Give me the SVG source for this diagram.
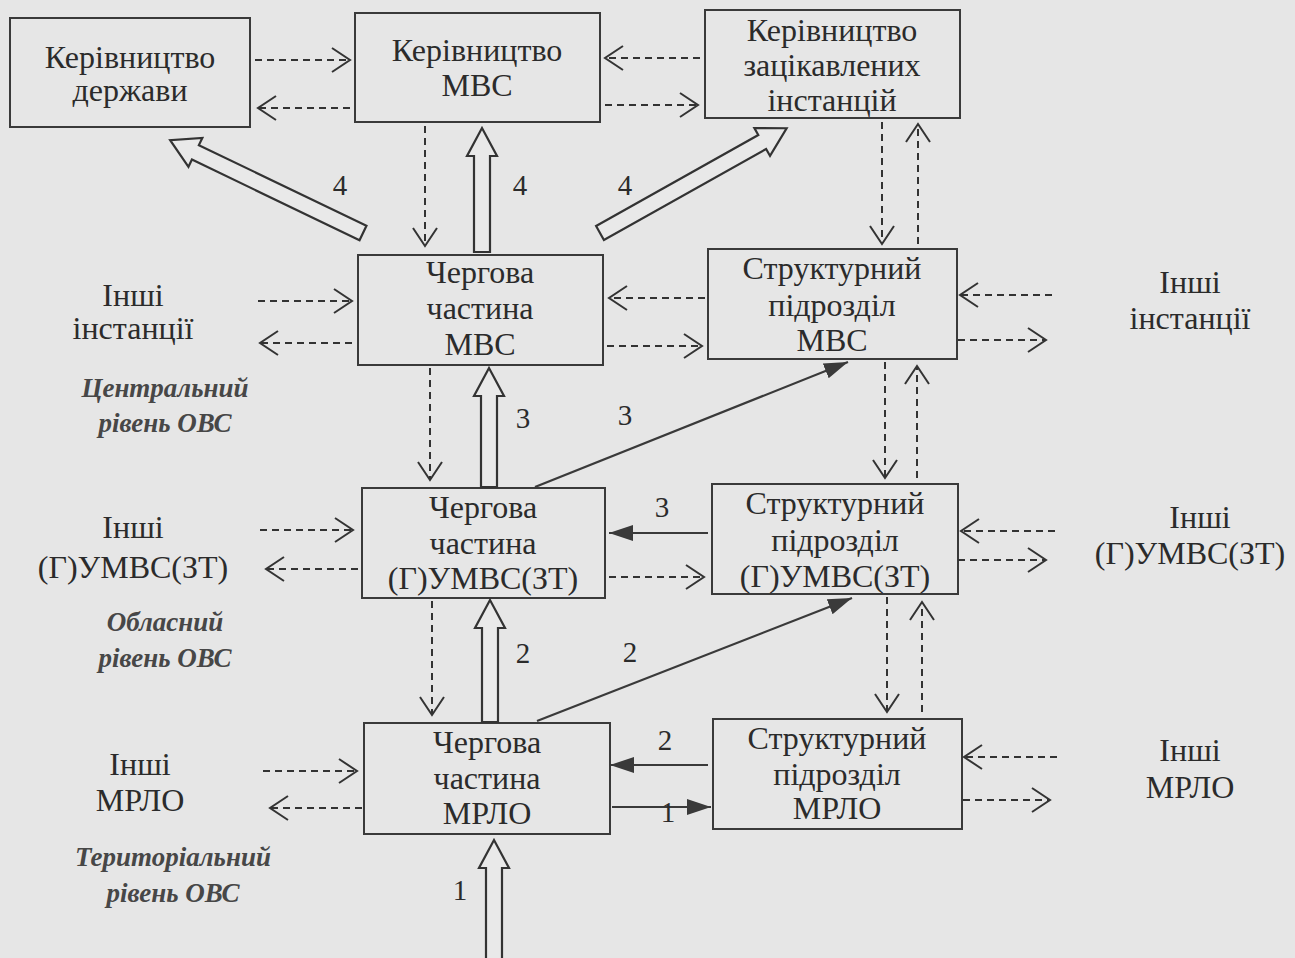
<svg xmlns="http://www.w3.org/2000/svg" width="1295" height="958" viewBox="0 0 1295 958">
<defs>
<marker id="open" markerUnits="userSpaceOnUse" markerWidth="24" markerHeight="28" refX="20" refY="14" orient="auto">
<path d="M2,2 L20,14 L2,26" fill="none" stroke="#333" stroke-width="2"/>
</marker>
<marker id="solid" markerUnits="userSpaceOnUse" markerWidth="26" markerHeight="18" refX="24" refY="9" orient="auto">
<path d="M0,1 L24,9 L0,17 Z" fill="#3a3a3a"/>
</marker>
<style>
.bg{fill:#e6e6e6}
.box{fill:none;stroke:#3a3a3a;stroke-width:2}
.t{font-family:"Liberation Serif","Times New Roman","DejaVu Serif",serif;font-size:32px;fill:#2b2b2b;text-anchor:middle}
.lv{font-family:"Liberation Serif","Times New Roman","DejaVu Serif",serif;font-size:27px;font-weight:bold;font-style:italic;fill:#474747;text-anchor:middle}
.n{font-family:"Liberation Serif","Times New Roman","DejaVu Serif",serif;font-size:29px;fill:#2b2b2b;text-anchor:middle}
.d{fill:none;stroke:#333;stroke-width:2;stroke-dasharray:7,5;marker-end:url(#open)}
.s{fill:none;stroke:#3a3a3a;stroke-width:2.2;marker-end:url(#solid)}
.blk{fill:#e9e9e9;stroke:#333;stroke-width:2.2;stroke-linejoin:miter}
</style>
</defs>
<rect class="bg" x="0" y="0" width="1295" height="958"/>

<g id="n-derzhava"><rect class="box" x="10" y="18" width="240" height="109"/>
<text class="t" x="130" y="68">Керівництво</text><text class="t" x="130" y="101">держави</text></g>
<g id="n-kmvs"><rect class="box" x="355" y="13" width="245" height="109"/>
<text class="t" x="477" y="61">Керівництво</text><text class="t" x="477" y="96">МВС</text></g>
<g id="n-kzac"><rect class="box" x="705" y="10" width="255" height="108"/>
<text class="t" x="832" y="41">Керівництво</text><text class="t" x="832" y="76">зацікавлених</text><text class="t" x="832" y="111">інстанцій</text></g>

<g id="n-chmvs"><rect class="box" x="358" y="255" width="245" height="110"/>
<text class="t" x="480" y="283">Чергова</text><text class="t" x="480" y="319">частина</text><text class="t" x="480" y="355">МВС</text></g>
<g id="n-stmvs"><rect class="box" x="708" y="249" width="249" height="110"/>
<text class="t" x="832" y="279">Структурний</text><text class="t" x="832" y="316">підрозділ</text><text class="t" x="832" y="351">МВС</text></g>

<g id="n-chgu"><rect class="box" x="362" y="488" width="243" height="110"/>
<text class="t" x="483" y="518">Чергова</text><text class="t" x="483" y="554">частина</text><text class="t" x="483" y="589">(Г)УМВС(ЗТ)</text></g>
<g id="n-stgu"><rect class="box" x="712" y="484" width="246" height="110"/>
<text class="t" x="835" y="514">Структурний</text><text class="t" x="835" y="551">підрозділ</text><text class="t" x="835" y="587">(Г)УМВС(ЗТ)</text></g>

<g id="n-chmrlo"><rect class="box" x="364" y="723" width="246" height="111"/>
<text class="t" x="487" y="753">Чергова</text><text class="t" x="487" y="789">частина</text><text class="t" x="487" y="824">МРЛО</text></g>
<g id="n-stmrlo"><rect class="box" x="713" y="719" width="249" height="110"/>
<text class="t" x="837" y="749">Структурний</text><text class="t" x="837" y="785">підрозділ</text><text class="t" x="837" y="819">МРЛО</text></g>

<g id="n-inshi-l1"><text class="t" x="133" y="306">Інші</text><text class="t" x="133" y="339">інстанції</text></g>
<g id="n-inshi-r1"><text class="t" x="1190" y="293">Інші</text><text class="t" x="1190" y="329">інстанції</text></g>
<g id="n-inshi-l2"><text class="t" x="133" y="538">Інші</text><text class="t" x="133" y="578">(Г)УМВС(ЗТ)</text></g>
<g id="n-inshi-r2"><text class="t" x="1200" y="528">Інші</text><text class="t" x="1190" y="564">(Г)УМВС(ЗТ)</text></g>
<g id="n-inshi-l3"><text class="t" x="140" y="775">Інші</text><text class="t" x="140" y="811">МРЛО</text></g>
<g id="n-inshi-r3"><text class="t" x="1190" y="761">Інші</text><text class="t" x="1190" y="798">МРЛО</text></g>

<g id="levels">
<text class="lv" x="165" y="397">Центральний</text><text class="lv" x="165" y="432">рівень ОВС</text>
<text class="lv" x="165" y="631">Обласний</text><text class="lv" x="165" y="667">рівень ОВС</text>
<text class="lv" x="173" y="866">Територіальний</text><text class="lv" x="173" y="902">рівень ОВС</text>
</g>

<g id="connectors">
<path class="d" d="M255,60 H350"/>
<path class="d" d="M350,108 H258"/>
<path class="d" d="M700,58 H605"/>
<path class="d" d="M605,105 H698"/>
<path class="d" d="M425,126 V246"/>
<path class="d" d="M882,122 V244"/>
<path class="d" d="M918,244 V124"/>
<polygon class="blk" transform="translate(363,233) rotate(-154.3)" points="0,-8 186,-8 186,-16 214,0 186,16 186,8 0,8"/>
<polygon class="blk" transform="translate(482,252) rotate(-90)" points="0,-8 96,-8 96,-15 124,0 96,15 96,8 0,8"/>
<polygon class="blk" transform="translate(600,233) rotate(-29.3)" points="0,-8 186,-8 186,-16 214,0 186,16 186,8 0,8"/>
<path class="d" d="M258,301 H352"/>
<path class="d" d="M352,343 H260"/>
<path class="d" d="M705,298 H609"/>
<path class="d" d="M607,346 H702"/>
<path class="d" d="M1052,295 H960"/>
<path class="d" d="M958,340 H1046"/>
<path class="d" d="M430,368 V480"/>
<path class="d" d="M885,362 V478"/>
<path class="d" d="M917,478 V366"/>
<polygon class="blk" transform="translate(489,487) rotate(-90)" points="0,-8 91,-8 91,-15 119,0 91,15 91,8 0,8"/>
<path class="s" d="M535,487 L848,362"/>
<path class="d" d="M260,530 H353"/>
<path class="d" d="M358,569 H266"/>
<path class="s" d="M708,533 H609"/>
<path class="d" d="M609,577 H704"/>
<path class="d" d="M1055,531 H961"/>
<path class="d" d="M958,560 H1046"/>
<path class="d" d="M432,601 V715"/>
<path class="d" d="M887,597 V712"/>
<path class="d" d="M922,712 V602"/>
<polygon class="blk" transform="translate(490,722) rotate(-90)" points="0,-8 94,-8 94,-15 122,0 94,15 94,8 0,8"/>
<path class="s" d="M537,721 L852,598"/>
<path class="d" d="M263,771 H357"/>
<path class="d" d="M362,808 H270"/>
<path class="s" d="M708,765 H610"/>
<path class="s" d="M612,807 H711"/>
<path class="d" d="M1057,757 H964"/>
<path class="d" d="M963,800 H1050"/>
<polygon class="blk" transform="translate(494,960) rotate(-90)" points="0,-8 92,-8 92,-15 120,0 92,15 92,8 0,8"/>
</g>

<g id="labels">
<text class="n" x="340" y="195">4</text>
<text class="n" x="520" y="195">4</text>
<text class="n" x="625" y="195">4</text>
<text class="n" x="523" y="428">3</text>
<text class="n" x="625" y="425">3</text>
<text class="n" x="662" y="517">3</text>
<text class="n" x="523" y="663">2</text>
<text class="n" x="630" y="662">2</text>
<text class="n" x="665" y="750">2</text>
<text class="n" x="668" y="822">1</text>
<text class="n" x="460" y="900">1</text>
</g>
</svg>
